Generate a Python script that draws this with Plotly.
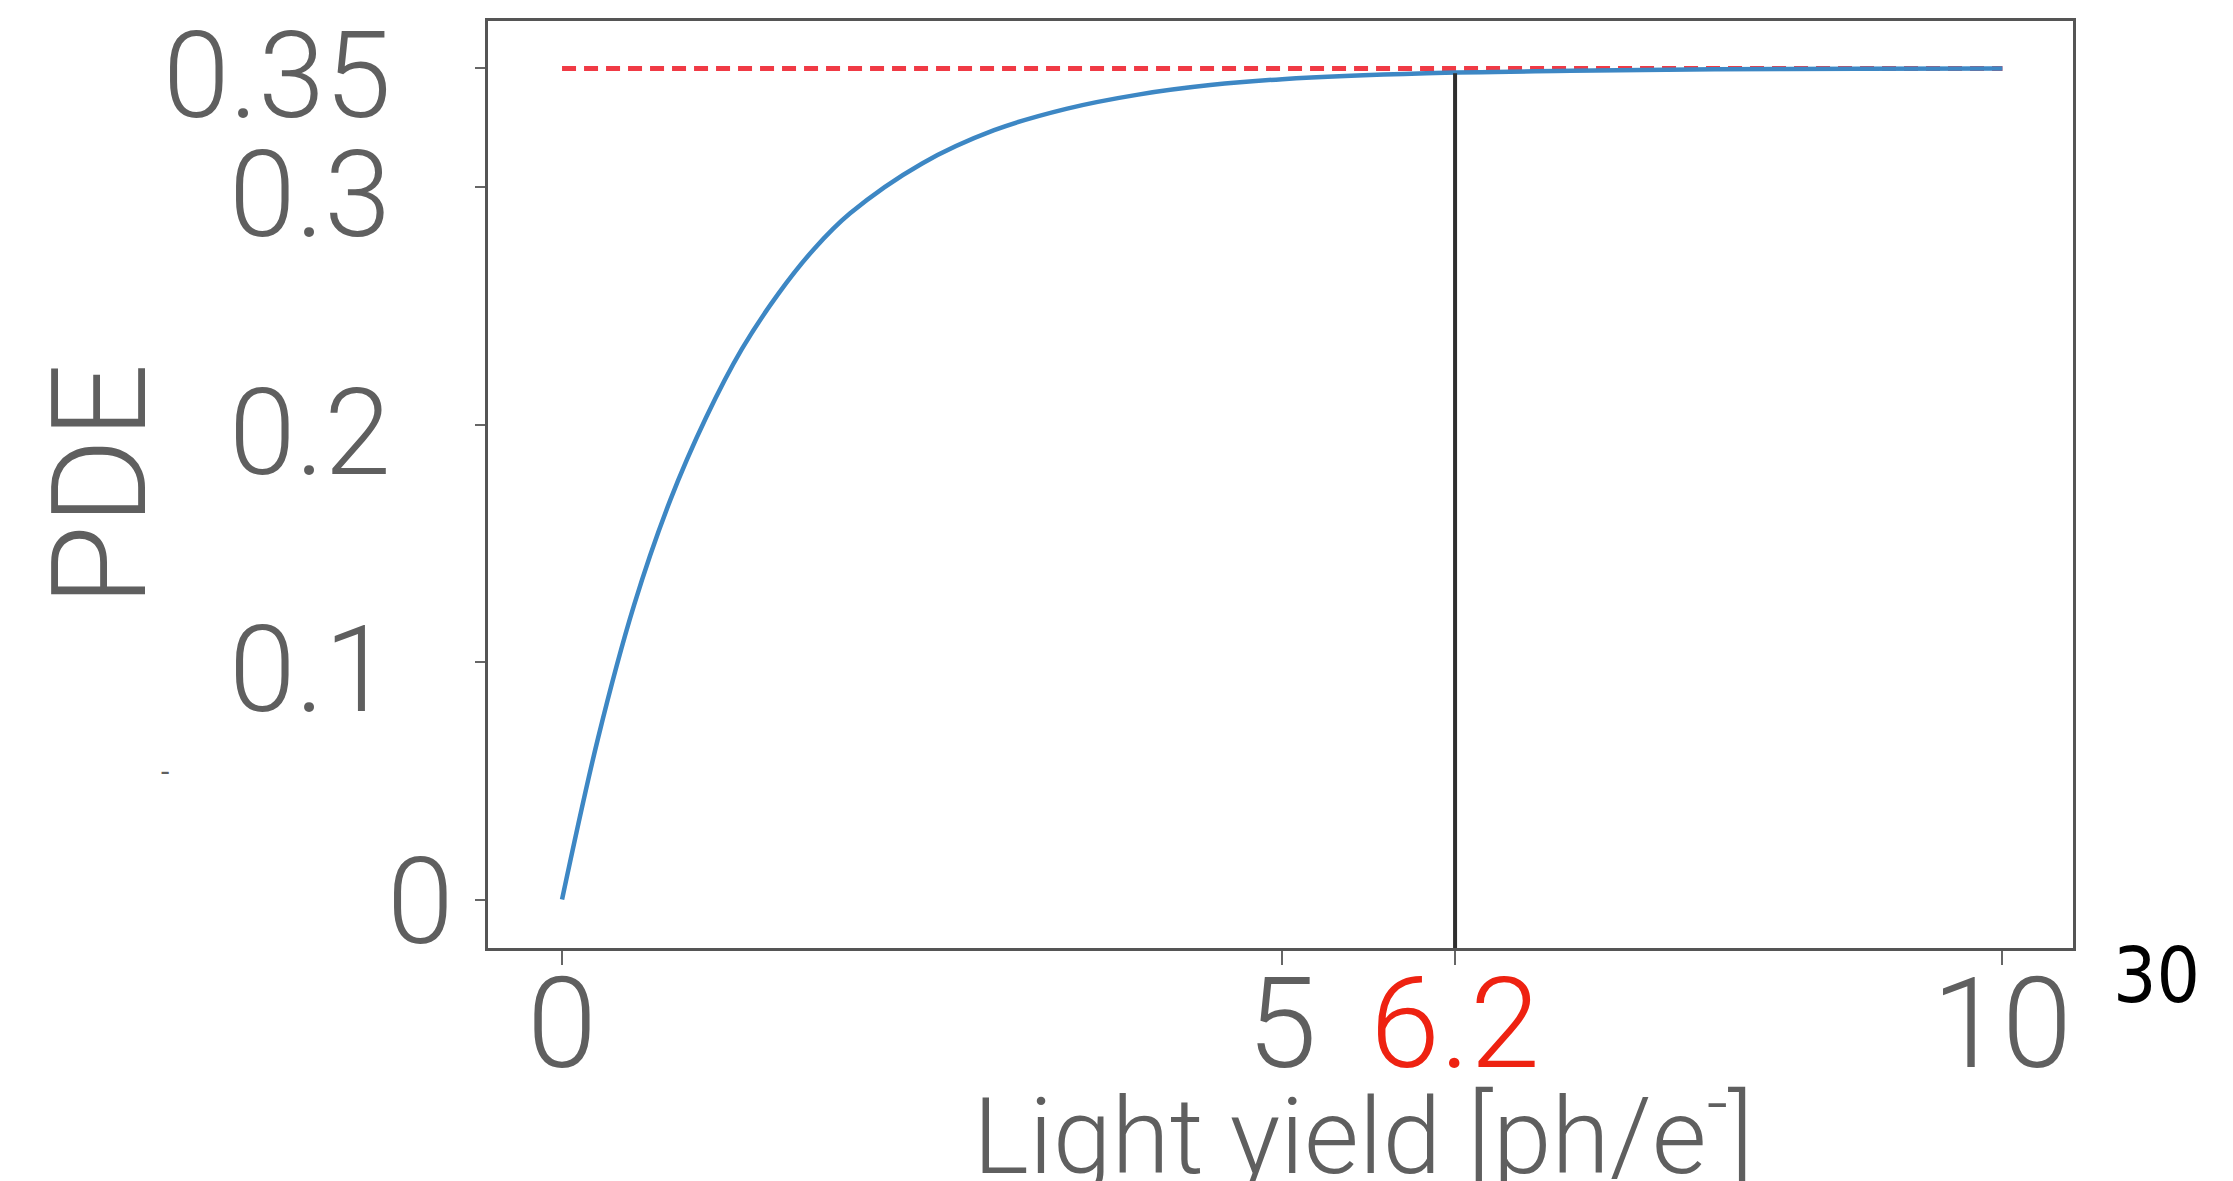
import plotly.graph_objects as go

# ---- data ----
light_yield = [0, 0.25, 0.5, 0.75, 1.0, 1.25, 1.5, 1.75, 2.0, 2.5, 3.0, 3.5, 4.0, 4.5, 5.0, 6.0, 7.0, 8.0, 9.0, 10.0]
pde = [0, 0.068, 0.124, 0.168, 0.203, 0.232, 0.255, 0.274, 0.289, 0.310, 0.324, 0.333, 0.339, 0.343, 0.3455, 0.348, 0.349, 0.3497, 0.3499, 0.350]
pde_max = 0.35
plateau_x = [0, 10]
marker_x = 6.2
marker_pde = 0.348

x_tickvals = [0, 5, 6.2, 10]
x_ticktext = ["0", "5", "6.2", "10"]
y_tickvals = [0, 0.1, 0.2, 0.3, 0.35]
y_ticktext = ["0", "0.1", "0.2", "0.3", "0.35"]

x_range = [-0.514, 10.49]
y_range = [-0.0204, 0.370]

GRAY = "#5f5f5f"
FONT = "Roboto"
W = 300

fig = go.Figure()

fig.add_trace(go.Scatter(x=plateau_x, y=[pde_max, pde_max], mode="lines",
                         line=dict(color="#f03a45", width=5, dash="14px,8px"),
                         showlegend=False, hoverinfo="skip"))
fig.add_trace(go.Scatter(x=light_yield, y=pde, mode="lines", line_shape="spline",
                         line=dict(color="#3d87c4", width=4.5),
                         showlegend=False))
fig.add_trace(go.Scatter(x=[marker_x, marker_x], y=[y_range[0], marker_pde], mode="lines",
                         line=dict(color="#2e2e2e", width=4),
                         showlegend=False, hoverinfo="skip"))

annotations = []
# y tick labels
for v, t in zip(y_tickvals, y_ticktext):
    if t == "0":
        annotations.append(dict(x=-0.02, xref="paper", y=v, yref="y", text=t,
                                xanchor="right", yanchor="middle", showarrow=False,
                                font=dict(family=FONT, size=120, color=GRAY, weight=W), yshift=-2))
    else:
        annotations.append(dict(x=-0.06, xref="paper", y=v, yref="y", text=t,
                                xanchor="right", yanchor="middle", showarrow=False,
                                font=dict(family=FONT, size=120, color=GRAY, weight=W), yshift=-8))
# x tick labels
for v, t in zip(x_tickvals, x_ticktext):
    col = "#ee2211" if t == "6.2" else GRAY
    annotations.append(dict(x=v, xref="x", y=0.0, yref="paper", text=t,
                            xanchor="center", yanchor="top", showarrow=False,
                            font=dict(family=FONT, size=126, color=col, weight=W)))
# axis titles
annotations.append(dict(x=0.552, xref="paper", y=-0.118, yref="paper",
                        text="Light yield [ph/e<sup>-</sup>]", xanchor="center", yanchor="top",
                        showarrow=False, font=dict(family=FONT, size=106, color=GRAY, weight=W)))
annotations.append(dict(x=-0.245, xref="paper", y=0.5, yref="paper", text="PDE",
                        textangle=-90, xanchor="center", yanchor="middle",
                        showarrow=False, font=dict(family=FONT, size=132, color=GRAY, weight=W)))
annotations.append(dict(x=1.024, xref="paper", y=-0.03, yref="paper", text="30",
                        xanchor="left", yanchor="middle", showarrow=False,
                        font=dict(family="DejaVu Sans Condensed, Liberation Sans", size=76, color="#000000")))
annotations.append(dict(x=-0.204, xref="paper", y=0.19, yref="paper", text="-",
                        xanchor="center", yanchor="middle", showarrow=False,
                        font=dict(family=FONT, size=30, color=GRAY)))

fig.update_layout(
    width=2233, height=1181,
    margin=dict(l=488, r=160, t=21, b=233),
    paper_bgcolor="white", plot_bgcolor="white",
    annotations=annotations,
    xaxis=dict(range=x_range, tickvals=x_tickvals, showticklabels=False,
               ticks="outside", ticklen=14, tickwidth=2, tickcolor="#666",
               showgrid=False, zeroline=False, showline=True, linecolor="#555",
               linewidth=3, mirror=True),
    yaxis=dict(range=y_range, tickvals=y_tickvals, showticklabels=False,
               ticks="outside", ticklen=10, tickwidth=2, tickcolor="#666",
               showgrid=False, zeroline=False, showline=True, linecolor="#555",
               linewidth=3, mirror=True),
)

fig.write_html("out.html")
